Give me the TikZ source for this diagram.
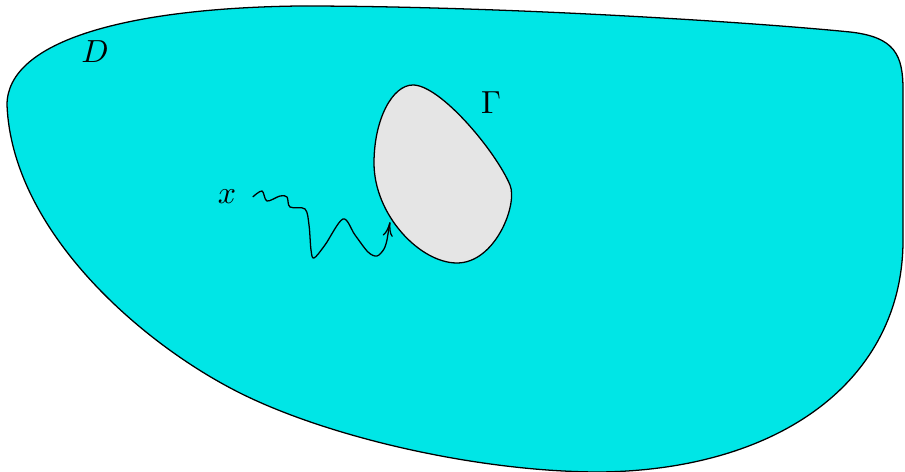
\documentclass[tikz,border=0pt]{standalone}
\usepackage{amsmath,amssymb}
\usepackage{tikz}
\usetikzlibrary{arrows.meta,positioning,calc}
\usepackage{xcolor}
\definecolor{dcyan}{RGB}{0,230,230}
\definecolor{gcol}{RGB}{229,229,229}

\begin{document}
\begin{tikzpicture}[
    x=0.011cm, y=-0.011cm,
    region/.style={draw, fill=dcyan},
    obst/.style={draw, fill=gcol},
    lbl/.style={inner sep=0pt},
    walk/.style={-{To[length=4.5pt,width=3.2pt]}}
  ]
  \useasboundingbox (0,0) rectangle (905,472);

  % the region D
  \draw[region] (7,105) .. controls (7,40) and (130,8) .. (300,6)
    .. controls (500,6) and (750,22) .. (850,32)
    .. controls (895,37) and (903,55) .. (903,90)
    -- (903,240)
    .. controls (903,380) and (780,470) .. (600,472)
    .. controls (480,472) and (330,438) .. (240,393)
    .. controls (140,343) and (12,230) .. cycle;

  % the set Gamma
  \draw[obst] (374,163) .. controls (374,120) and (392,85) .. (413,85)
    .. controls (440,85) and (495,150) .. (510,185)
    .. controls (518,205) and (495,263) .. (457,263)
    .. controls (420,263) and (374,215) .. cycle;

  \node[lbl] (D) at (95,52) {$D$};
  \node[lbl] (G) at (491,103) {$\Gamma$};
  \node[lbl] (x) at (227,197) {$x$};
  \coordinate (hit) at (390,222);

  \draw[walk] plot[smooth, tension=0.55] coordinates {
    ([xshift=5pt]x.east) (262,191) (267,201) (280,196) (287,197) (290,207)
    (305,209) (309,225) (311,250) (314,258) (325,245) (343,219)
    (355,235) (368,252) (377,256) (384,249) (387,240)} -- (hit);
\end{tikzpicture}
\end{document}
